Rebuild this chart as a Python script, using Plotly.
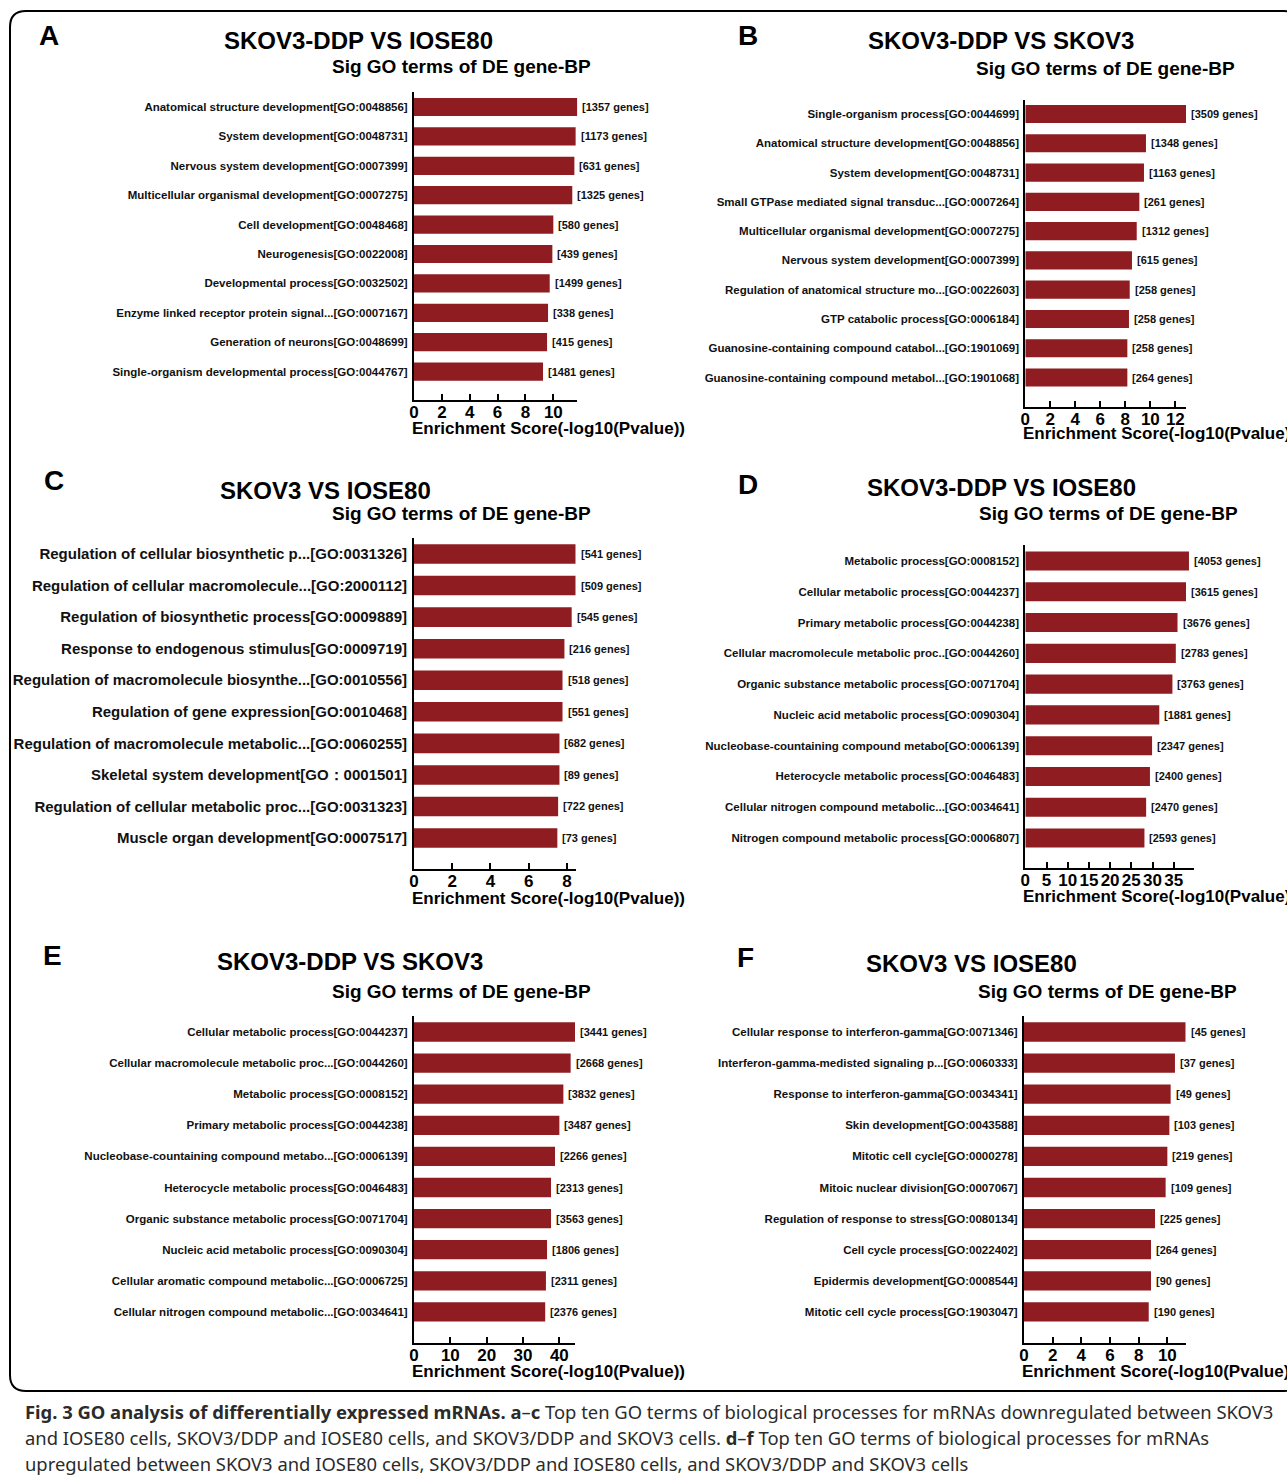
import plotly.graph_objects as go

# ---------------- data ----------------
A_terms = ["Anatomical structure development[GO:0048856]", "System development[GO:0048731]",
           "Nervous system development[GO:0007399]", "Multicellular organismal development[GO:0007275]",
           "Cell development[GO:0048468]", "Neurogenesis[GO:0022008]", "Developmental process[GO:0032502]",
           "Enzyme linked receptor protein signal...[GO:0007167]", "Generation of neurons[GO:0048699]",
           "Single-organism developmental process[GO:0044767]"]
A_scores = [11.72, 11.60, 11.51, 11.36, 10.0, 9.93, 9.74, 9.62, 9.55, 9.26]
A_genes = [1357, 1173, 631, 1325, 580, 439, 1499, 338, 415, 1481]

B_terms = ["Single-organism process[GO:0044699]", "Anatomical structure development[GO:0048856]",
           "System development[GO:0048731]", "Small GTPase mediated signal transduc...[GO:0007264]",
           "Multicellular organismal development[GO:0007275]", "Nervous system development[GO:0007399]",
           "Regulation of anatomical structure mo...[GO:0022603]", "GTP catabolic process[GO:0006184]",
           "Guanosine-containing compound catabol...[GO:1901069]",
           "Guanosine-containing compound metabol...[GO:1901068]"]
B_scores = [12.85, 9.65, 9.49, 9.12, 8.91, 8.53, 8.35, 8.29, 8.16, 8.16]
B_genes = [3509, 1348, 1163, 261, 1312, 615, 258, 258, 258, 264]

C_terms = ["Regulation of cellular biosynthetic p...[GO:0031326]",
           "Regulation of cellular macromolecule...[GO:2000112]",
           "Regulation of biosynthetic process[GO:0009889]", "Response to endogenous stimulus[GO:0009719]",
           "Regulation of macromolecule biosynthe...[GO:0010556]", "Regulation of gene expression[GO:0010468]",
           "Regulation of macromolecule metabolic...[GO:0060255]", "Skeletal system development[GO：0001501]",
           "Regulation of cellular metabolic proc...[GO:0031323]", "Muscle organ development[GO:0007517]"]
C_scores = [8.46, 8.46, 8.25, 7.87, 7.77, 7.77, 7.61, 7.61, 7.54, 7.50]
C_genes = [541, 509, 545, 216, 518, 551, 682, 89, 722, 73]

D_terms = ["Metabolic process[GO:0008152]", "Cellular metabolic process[GO:0044237]",
           "Primary metabolic process[GO:0044238]", "Cellular macromolecule metabolic proc..[GO:0044260]",
           "Organic substance metabolic process[GO:0071704]", "Nucleic acid metabolic process[GO:0090304]",
           "Nucleobase-countaining compound metabo[GO:0006139]", "Heterocycle metabolic process[GO:0046483]",
           "Cellular nitrogen compound metabolic...[GO:0034641]",
           "Nitrogen compound metabolic process[GO:0006807]"]
D_scores = [38.6, 37.9, 35.9, 35.5, 34.7, 31.6, 29.9, 29.4, 28.5, 28.1]
D_genes = [4053, 3615, 3676, 2783, 3763, 1881, 2347, 2400, 2470, 2593]

E_terms = ["Cellular metabolic process[GO:0044237]", "Cellular macromolecule metabolic proc...[GO:0044260]",
           "Metabolic process[GO:0008152]", "Primary metabolic process[GO:0044238]",
           "Nucleobase-countaining compound metabo...[GO:0006139]", "Heterocycle metabolic process[GO:0046483]",
           "Organic substance metabolic process[GO:0071704]", "Nucleic acid metabolic process[GO:0090304]",
           "Cellular aromatic compound metabolic...[GO:0006725]",
           "Cellular nitrogen compound metabolic...[GO:0034641]"]
E_scores = [44.3, 43.1, 41.1, 40.0, 38.8, 37.7, 37.7, 36.6, 36.3, 36.1]
E_genes = [3441, 2668, 3832, 3487, 2266, 2313, 3563, 1806, 2311, 2376]

F_terms = ["Cellular response to interferon-gamma[GO:0071346]",
           "Interferon-gamma-medisted signaling p...[GO:0060333]", "Response to interferon-gamma[GO:0034341]",
           "Skin development[GO:0043588]", "Mitotic cell cycle[GO:0000278]", "Mitoic nuclear division[GO:0007067]",
           "Regulation of response to stress[GO:0080134]", "Cell cycle process[GO:0022402]",
           "Epidermis development[GO:0008544]", "Mitotic cell cycle process[GO:1903047]"]
F_scores = [11.28, 10.53, 10.23, 10.14, 10.0, 9.88, 9.14, 8.86, 8.86, 8.70]
F_genes = [45, 37, 49, 103, 219, 109, 225, 264, 90, 190]

panel_letters = ["A", "B", "C", "D", "E", "F"]
panel_titles = ["SKOV3-DDP VS IOSE80", "SKOV3-DDP VS SKOV3", "SKOV3 VS IOSE80",
                "SKOV3-DDP VS IOSE80", "SKOV3-DDP VS SKOV3", "SKOV3 VS IOSE80"]
subtitle = "Sig GO terms of DE gene-BP"
x_title = "Enrichment Score(-log10(Pvalue))"

# ---------------- geometry (pixels) ----------------
W, H = 1287, 1481
def px(x):
    return x / W
def py(y):
    return 1 - y / H

BAR = "#8e1c21"
SANS = "Liberation Sans, Arial, sans-serif"

# each: data, plot box (x0, x1, top, bottom), first bar centre, bar step, x max, dtick,
#       letter pos, title pos, subtitle pos, label font size, axis-title drop below the axis
specs = [
    dict(t=A_terms, v=A_scores, g=A_genes, box=(414, 577.3, 92, 400), c0=107, s=29.4, xmax=11.72, dt=2,
         L=(49, 36), T=(359, 41), S=(461, 67), lf=11.5, td=29),
    dict(t=B_terms, v=B_scores, g=B_genes, box=(1025.3, 1186, 100, 406.7), c0=114, s=29.28, xmax=12.85, dt=2,
         L=(748, 36), T=(1001, 41), S=(1105, 68), lf=11.5, td=27),
    dict(t=C_terms, v=C_scores, g=C_genes, box=(414, 575.7, 538, 869), c0=554, s=31.56, xmax=8.46, dt=2,
         L=(54, 481), T=(325, 490), S=(461, 513), lf=15, td=29),
    dict(t=D_terms, v=D_scores, g=D_genes, box=(1025.3, 1194.3, 545, 868), c0=561, s=30.78, xmax=39.86, dt=5,
         L=(748, 485), T=(1001, 487), S=(1108, 513), lf=11.5, td=28),
    dict(t=E_terms, v=E_scores, g=E_genes, box=(414, 575, 1016, 1343), c0=1032, s=31.1, xmax=44.3, dt=10,
         L=(52, 955), T=(350, 962), S=(461, 991), lf=11.5, td=28),
    dict(t=F_terms, v=F_scores, g=F_genes, box=(1024, 1185.7, 1016, 1343), c0=1032, s=31.1, xmax=11.28, dt=2,
         L=(745, 957), T=(971, 963), S=(1107, 991), lf=11.5, td=28),
]

fig = go.Figure()
annotations = []
layout = {}

for i, sp in enumerate(specs, start=1):
    xa = "x" if i == 1 else f"x{i}"
    ya = "y" if i == 1 else f"y{i}"
    x0, x1, top, bot = sp["box"]
    fig.add_trace(go.Bar(
        x=sp["v"], y=sp["t"], orientation="h", xaxis=xa, yaxis=ya,
        marker=dict(color=BAR, line=dict(width=0)), width=0.62, showlegend=False,
        hoverinfo="x+y",
    ))
    layout["xaxis" if i == 1 else f"xaxis{i}"] = dict(
        domain=[px(x0), px(x1)], anchor=ya, range=[0, sp["xmax"]], automargin=False,
        tick0=0, dtick=sp["dt"], ticks="inside", ticklen=6, tickwidth=2, tickcolor="black",
        tickangle=0, ticklabelstandoff=-4,
        showline=True, linecolor="black", linewidth=2, showgrid=False, zeroline=False,
        tickfont=dict(family=SANS, size=17, color="black", weight="bold"),
        fixedrange=True,
    )
    layout["yaxis" if i == 1 else f"yaxis{i}"] = dict(
        domain=[py(bot), py(top)], anchor=xa, type="category", automargin=False,
        range=[(bot - sp["c0"]) / sp["s"], (top - sp["c0"]) / sp["s"]],
        showline=True, linecolor="black", linewidth=2, showgrid=False, zeroline=False, ticks="",
        tickfont=dict(family=SANS, size=sp["lf"], color="#111111", weight="bold"),
        ticklabelstandoff=2, fixedrange=True,
    )
    # gene counts at the bar ends
    for term, val, gn in zip(sp["t"], sp["v"], sp["g"]):
        annotations.append(dict(
            x=val, y=term, xref=xa, yref=ya, text=f"[{gn} genes]", showarrow=False,
            xanchor="left", yanchor="middle", xshift=3,
            font=dict(family=SANS, size=11, color="#111111", weight="bold"),
        ))
    # panel letter, title and subtitle
    annotations.append(dict(x=px(sp["L"][0]), y=py(sp["L"][1]), xref="paper", yref="paper",
                            text=f"<b>{panel_letters[i-1]}</b>", showarrow=False,
                            xanchor="center", yanchor="middle",
                            font=dict(family=SANS, size=28, color="black")))
    annotations.append(dict(x=px(sp["T"][0]), y=py(sp["T"][1]), xref="paper", yref="paper",
                            text=f"<b>{panel_titles[i-1]}</b>", showarrow=False,
                            xanchor="center", yanchor="middle",
                            font=dict(family=SANS, size=24, color="black")))
    annotations.append(dict(x=px(sp["S"][0]), y=py(sp["S"][1]), xref="paper", yref="paper",
                            text=f"<b>{subtitle}</b>", showarrow=False,
                            xanchor="center", yanchor="middle",
                            font=dict(family=SANS, size=19, color="black")))
    # x-axis title
    annotations.append(dict(x=px(x0 - 4), y=py(bot + sp["td"]), xref="paper", yref="paper",
                            text=f"<b>{x_title}</b>", showarrow=False,
                            xanchor="left", yanchor="middle",
                            font=dict(family=SANS, size=17, color="black")))

# figure caption
caption = [
    "<b>Fig. 3 GO analysis of differentially expressed mRNAs.</b> <b>a</b>–<b>c</b> Top ten GO terms of "
    "biological processes for mRNAs downregulated between SKOV3",
    "and IOSE80 cells, SKOV3/DDP and IOSE80 cells, and SKOV3/DDP and SKOV3 cells. <b>d</b>–<b>f</b> Top ten "
    "GO terms of biological processes for mRNAs",
    "upregulated between SKOV3 and IOSE80 cells, SKOV3/DDP and IOSE80 cells, and SKOV3/DDP and SKOV3 cells",
]
for k, line in enumerate(caption):
    annotations.append(dict(x=px(23), y=py(1411 + 26 * k), xref="paper", yref="paper", text=line,
                            showarrow=False, xanchor="left", yanchor="middle",
                            font=dict(family="Noto Sans, Open Sans, sans-serif", size=18.4, color="#2b2b2b")))

# rounded frame around the panels
L_, T_, R_, B_, r = 10, 11, 1300, 1391, 16
rx, ry = r / W, r / H
frame = (f"M {px(L_)},{py(T_) - ry} Q {px(L_)},{py(T_)} {px(L_) + rx},{py(T_)} "
         f"L {px(R_) - rx},{py(T_)} Q {px(R_)},{py(T_)} {px(R_)},{py(T_) - ry} "
         f"L {px(R_)},{py(B_) + ry} Q {px(R_)},{py(B_)} {px(R_) - rx},{py(B_)} "
         f"L {px(L_) + rx},{py(B_)} Q {px(L_)},{py(B_)} {px(L_)},{py(B_) + ry} Z")

fig.update_layout(
    template="none",
    width=W, height=H, margin=dict(l=0, r=0, t=0, b=0, autoexpand=False),
    paper_bgcolor="white", plot_bgcolor="white",
    annotations=annotations,
    shapes=[dict(type="path", path=frame, xref="paper", yref="paper",
                 line=dict(color="black", width=2), fillcolor="rgba(0,0,0,0)", layer="below")],
    **layout,
)

fig.write_html("out.html")
